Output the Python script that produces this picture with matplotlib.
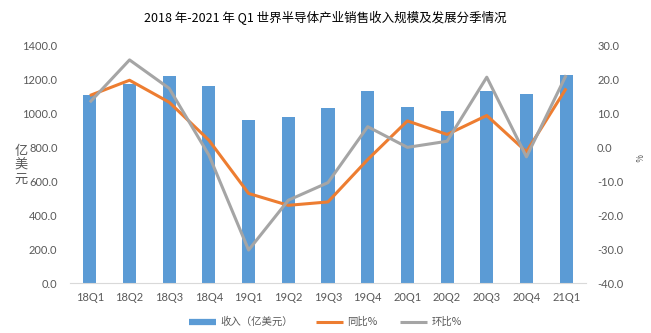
import matplotlib
matplotlib.use("Agg")
import matplotlib.pyplot as plt
from matplotlib.lines import Line2D
import numpy as np

plt.rcParams['font.family'] = ['Lato', 'Noto Sans CJK SC', 'DejaVu Sans']

categories = ["18Q1", "18Q2", "18Q3", "18Q4", "19Q1", "19Q2", "19Q3",
              "19Q4", "20Q1", "20Q2", "20Q3", "20Q4", "21Q1"]
revenue = [1110, 1175, 1222, 1162, 962, 980, 1032, 1132, 1042, 1018, 1132, 1114, 1228]
yoy = [15.4, 19.9, 13.4, 2.2, -13.5, -17.0, -16.0, -3.5, 7.9, 3.9, 9.5, -1.2, 17.5]
qoq = [13.4, 25.9, 17.5, -2.2, -30.2, -15.5, -10.3, 6.2, 0.1, 1.9, 20.8, -2.7, 21.4]

left_ticks = [0, 200, 400, 600, 800, 1000, 1200, 1400]
right_ticks = [-40, -30, -20, -10, 0, 10, 20, 30]

blue = "#5B9BD5"
orange = "#ED7D31"
gray = "#A5A5A5"
tick_color = "#595959"
cjk = ['Noto Sans CJK SC', 'DejaVu Sans']

fig = plt.figure(figsize=(6.51, 3.33), dpi=100)
ax = fig.add_axes([70/651, 1 - 283.3/333, (586-70)/651, (283.3-46)/333])
x = np.arange(len(categories))
ax.bar(x, revenue, width=0.33, color=blue, zorder=2)
ax.set_xlim(-0.5, len(categories) - 0.5)
ax.set_ylim(0, 1400)
ax.set_yticks(left_ticks)
ax.set_yticklabels([f"{v:.1f}" for v in left_ticks])
ax.set_xticks(x)
ax.set_xticklabels(categories)
for s in ["top", "right", "left"]:
    ax.spines[s].set_visible(False)
ax.spines["bottom"].set_color("#D9D9D9")
ax.tick_params(axis="both", length=0, colors=tick_color, labelsize=8)
ax.tick_params(axis="x", pad=6)
ax.tick_params(axis="y", pad=9)

ax2 = ax.twinx()
ax2.plot(x, yoy, color=orange, lw=2.2, zorder=3, solid_capstyle="butt")
ax2.plot(x, qoq, color=gray, lw=2.2, zorder=3, solid_capstyle="butt")
ax2.set_ylim(-40, 30)
ax2.set_yticks(right_ticks)
ax2.set_yticklabels([f"{v:.1f}" if v >= 0 else f"-{abs(v):.1f}" for v in right_ticks])
for s in ["top", "right", "left", "bottom"]:
    ax2.spines[s].set_visible(False)
ax2.tick_params(axis="y", length=0, colors=tick_color, labelsize=8, pad=8)

for ch, yy in zip("亿美元", [151, 165, 179]):
    fig.text(21/651, 1 - yy/333, ch, ha="center", va="center",
             fontsize=9.5, color=tick_color, family=cjk)
fig.text(637/651, 1 - 158/333, "%", ha="center", va="center",
         fontsize=6, color=tick_color, rotation=270, family=cjk)

fig.text(0.5, 1 - 18/333, "2018 年-2021 年 Q1 世界半导体产业销售收入规模及发展分季情况",
         ha="center", va="center", fontsize=9, color="black", family=cjk)

handles = [Line2D([0], [0], color=blue, lw=4.5, solid_capstyle="butt"),
           Line2D([0], [0], color=orange, lw=2.2, solid_capstyle="butt"),
           Line2D([0], [0], color=gray, lw=2.2, solid_capstyle="butt")]
labels = ["收入（亿美元）", "同比%", "环比%"]
fig.legend(handles, labels, loc="center", bbox_to_anchor=(0.5, 1 - 322/333), ncol=3,
           frameon=False, handlelength=2.6, columnspacing=2.2,
           handletextpad=0.4, labelcolor=tick_color,
           prop={'family': cjk, 'size': 7.5})

fig.savefig("out.png", dpi=100)
